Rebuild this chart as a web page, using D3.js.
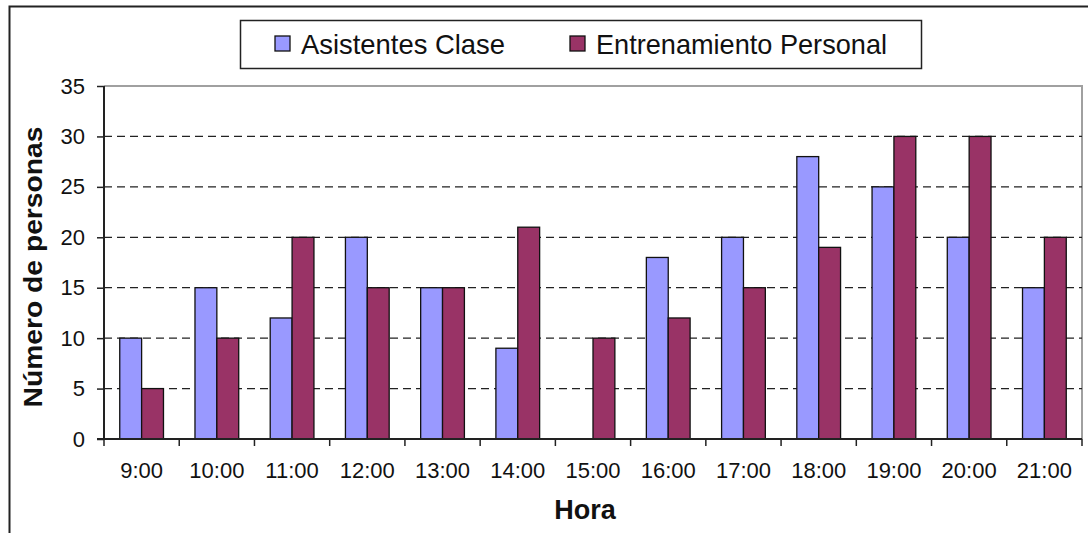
<!DOCTYPE html>
<html><head><meta charset="utf-8">
<script src="https://cdn.jsdelivr.net/npm/d3@7"></script>
<style>body{margin:0;background:#fff}svg{display:block}</style>
</head><body>
<script>
const categories = ["9:00","10:00","11:00","12:00","13:00","14:00","15:00","16:00","17:00","18:00","19:00","20:00","21:00"];
const seriesNames = ["Asistentes Clase","Entrenamiento Personal"];
const asistentesClase = [10,15,12,20,15,9,0,18,20,28,25,20,15];
const entrenamientoPersonal = [5,10,20,15,15,21,10,12,15,19,30,30,20];
const yTicks = [0,5,10,15,20,25,30,35];
const colors = ["#9999FF","#993366"];

const W = 1088, H = 533;
const svg = d3.select("body").append("svg").attr("width", W).attr("height", H);
const font = "Arial, 'Liberation Sans', sans-serif";

// outer frame
svg.append("path").attr("d", `M9.5,${H} L9.5,6.5 L${W+2},6.5`).attr("fill","none").attr("stroke","#222").attr("stroke-width",2);

const L = 104, R = 1082, T = 86, B = 439;
const x = d3.scaleBand().domain(categories).range([L, R]);
const y = d3.scaleLinear().domain([0, 35]).range([B, T]);
const inner = d3.scaleBand().domain(seriesNames).range([0, x.bandwidth()]).paddingInner(0).paddingOuter(0.72);

// plot border (top/right gray)
svg.append("path").attr("d", `M${L},${T} L${R},${T} L${R},${B}`).attr("fill","none").attr("stroke","#a0a0a0").attr("stroke-width",2);

// gridlines
svg.append("g").selectAll("line").data(yTicks.filter(v => v > 0 && v < 35)).join("line")
  .attr("x1", L).attr("x2", R).attr("y1", d => y(d)).attr("y2", d => y(d))
  .attr("stroke","#222").attr("stroke-width",1.3).attr("stroke-dasharray","8,5");

// bars
const data = [asistentesClase, entrenamientoPersonal];
seriesNames.forEach((s, si) => {
  svg.append("g").selectAll("rect").data(categories).join("rect")
    .attr("x", c => x(c) + inner(s))
    .attr("width", inner.bandwidth())
    .attr("y", (c, i) => y(data[si][i]))
    .attr("height", (c, i) => B - y(data[si][i]))
    .attr("fill", colors[si])
    .attr("stroke","#111").attr("stroke-width",1.3)
    .attr("display", (c, i) => data[si][i] > 0 ? null : "none");
});

// y axis
const ya = svg.append("g").attr("transform", `translate(${L},0)`)
  .call(d3.axisLeft(y).tickValues(yTicks).tickSize(7).tickPadding(12));
ya.select(".domain").attr("stroke","#222").attr("stroke-width",2).attr("d", `M0,${T}V${B}`);
ya.selectAll(".tick line").attr("stroke","#222").attr("stroke-width",1.5);
ya.selectAll("text").attr("font-family", font).attr("font-size", 22).attr("fill","#111");

// x axis
const xa = svg.append("g").attr("transform", `translate(0,${B})`)
  .call(d3.axisBottom(x).tickSize(0).tickPadding(23));
xa.select(".domain").attr("stroke","#222").attr("stroke-width",2).attr("d", `M${L-7},0H${R}`);
xa.selectAll("text").attr("font-family", font).attr("font-size", 22).attr("fill","#111");
// category separator ticks
svg.append("g").selectAll("line").data(categories.map((c, i) => x(c)).concat([R])).join("line")
  .attr("x1", d => d).attr("x2", d => d).attr("y1", B).attr("y2", B + 7)
  .attr("stroke","#222").attr("stroke-width",1.5);

// axis titles
svg.append("text").attr("x", 585).attr("y", 519).attr("text-anchor","middle")
  .attr("font-family", font).attr("font-weight","bold").attr("font-size", 27).attr("fill","#111").text("Hora");
svg.append("text").attr("transform", `translate(42,267) rotate(-90)`).attr("text-anchor","middle")
  .attr("font-family", font).attr("font-weight","bold").attr("font-size", 25)
  .attr("textLength", 281).attr("lengthAdjust","spacingAndGlyphs").attr("fill","#111").text("Número de personas");

// legend
const lg = svg.append("g");
lg.append("rect").attr("x", 240.5).attr("y", 20.5).attr("width", 681).attr("height", 48)
  .attr("fill","#fff").attr("stroke","#222").attr("stroke-width",1.5);
const legX = [275, 570];
const legLen = [204, 291];
seriesNames.forEach((s, i) => {
  lg.append("rect").attr("x", legX[i]).attr("y", 36).attr("width", 15).attr("height", 15)
    .attr("fill", colors[i]).attr("stroke","#111").attr("stroke-width",1.3);
  lg.append("text").attr("x", legX[i] + 26).attr("y", 54)
    .attr("font-family", font).attr("font-size", 28)
    .attr("textLength", legLen[i]).attr("lengthAdjust","spacingAndGlyphs")
    .attr("fill","#111").text(s);
});
</script>
</body></html>
